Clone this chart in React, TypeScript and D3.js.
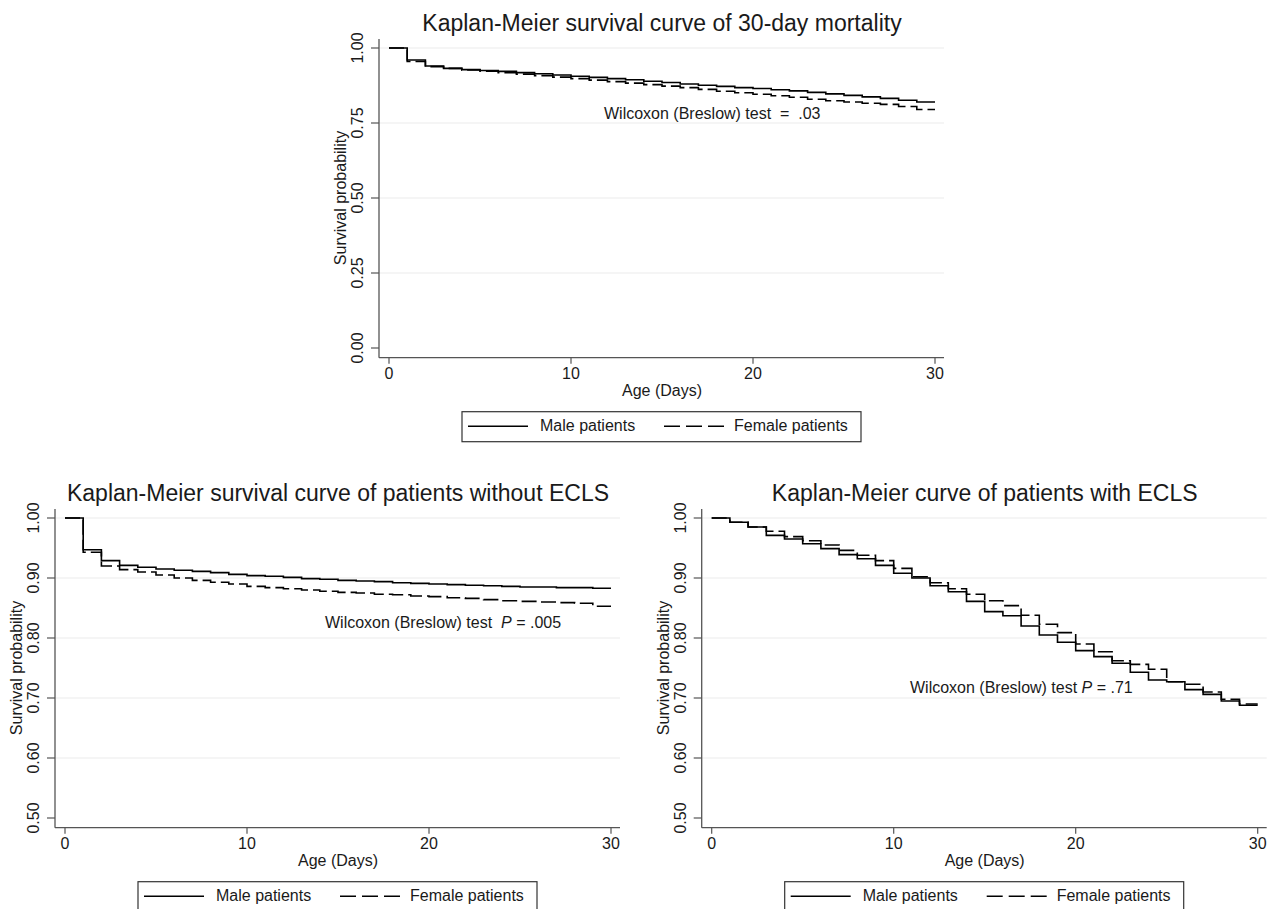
import React from 'react';
import * as d3 from 'd3';

const days = [0, 1, 2, 3, 4, 5, 6, 7, 8, 9, 10, 11, 12, 13, 14, 15, 16, 17, 18, 19, 20, 21, 22, 23, 24, 25, 26, 27, 28, 29, 30];

const allMale = [1.0, 0.96, 0.94, 0.932, 0.928, 0.925, 0.922, 0.918, 0.914, 0.91, 0.906, 0.902, 0.898, 0.894, 0.889, 0.885, 0.88, 0.876, 0.872, 0.868, 0.865, 0.861, 0.857, 0.852, 0.847, 0.842, 0.837, 0.832, 0.826, 0.82, 0.82];
const allFemale = [1.0, 0.955, 0.938, 0.932, 0.927, 0.923, 0.918, 0.913, 0.908, 0.903, 0.898, 0.893, 0.888, 0.883, 0.878, 0.873, 0.868, 0.862, 0.856, 0.851, 0.846, 0.841, 0.836, 0.829, 0.824, 0.82, 0.816, 0.812, 0.805, 0.795, 0.795];

const noEclsMale = [1.0, 0.947, 0.929, 0.921, 0.918, 0.915, 0.913, 0.911, 0.909, 0.906, 0.904, 0.903, 0.901, 0.899, 0.898, 0.896, 0.895, 0.894, 0.892, 0.891, 0.89, 0.889, 0.888, 0.887, 0.886, 0.885, 0.885, 0.884, 0.884, 0.883, 0.883];
const noEclsFemale = [1.0, 0.943, 0.92, 0.914, 0.91, 0.905, 0.9, 0.896, 0.893, 0.89, 0.886, 0.884, 0.882, 0.88, 0.878, 0.876, 0.875, 0.873, 0.872, 0.87, 0.869, 0.867, 0.866, 0.864, 0.862, 0.861, 0.86, 0.859, 0.858, 0.853, 0.853];

const eclsMale = [1.0, 0.993, 0.985, 0.971, 0.965, 0.957, 0.949, 0.939, 0.932, 0.921, 0.908, 0.9, 0.887, 0.877, 0.861, 0.844, 0.837, 0.82, 0.805, 0.793, 0.779, 0.769, 0.758, 0.743, 0.73, 0.727, 0.714, 0.706, 0.695, 0.688, 0.688];
const eclsFemale = [1.0, 0.993, 0.985, 0.978, 0.969, 0.962, 0.955, 0.946, 0.938, 0.929, 0.916, 0.902, 0.892, 0.882, 0.873, 0.862, 0.854, 0.838, 0.823, 0.809, 0.79, 0.777, 0.762, 0.756, 0.748, 0.727, 0.723, 0.71, 0.698, 0.69, 0.69];

const xTicks = [0, 10, 20, 30];
const yTicksTop = [0, 0.25, 0.5, 0.75, 1.0];
const yTicksBottom = [0.5, 0.6, 0.7, 0.8, 0.9, 1.0];

const titles = [
  'Kaplan-Meier survival curve of 30-day mortality',
  'Kaplan-Meier survival curve of patients without ECLS',
  'Kaplan-Meier curve of patients with ECLS',
];
const legendLabels = ['Male patients', 'Female patients'];

const FONT = '"Liberation Sans", Arial, Helvetica, sans-serif';
const AXIS = '#555';
const GRID = '#ececec';
const TEXT = '#1a1a1a';

type PanelProps = {
  ox: number;
  oy: number;
  title: string;
  yDomain: [number, number];
  yTicks: number[];
  male: number[];
  female: number[];
  annotation: React.ReactNode;
  annX: number;
  annY: number;
};

function Panel({ ox, oy, title, yDomain, yTicks, male, female, annotation, annX, annY }: PanelProps) {
  const x = d3.scaleLinear().domain([0, 30]).range([ox + 10, ox + 556]);
  const y = d3.scaleLinear().domain(yDomain).range([oy - 9.7, oy - 309.7]);
  const line = d3
    .line<number>()
    .x((_, i) => x(days[i]))
    .y((d) => y(d))
    .curve(d3.curveStepAfter);
  const right = ox + 565;
  const yMid = (y(yDomain[0]) + y(yDomain[1])) / 2;
  const fmt = (v: number) => v.toFixed(2);
  return (
    <g fontFamily={FONT} fill={TEXT}>
      <text x={ox + 283} y={oy - 327} fontSize={23} textAnchor="middle">
        {title}
      </text>
      {yTicks.slice(1).map((t) => (
        <line key={'g' + t} x1={ox} x2={right} y1={y(t)} y2={y(t)} stroke={GRID} strokeWidth={1.2} />
      ))}
      <line x1={ox} x2={ox} y1={oy - 318.7} y2={oy} stroke={AXIS} strokeWidth={1.3} />
      <line x1={ox} x2={right} y1={oy} y2={oy} stroke={AXIS} strokeWidth={1.3} />
      {yTicks.map((t) => (
        <g key={'y' + t}>
          <line x1={ox - 8} x2={ox} y1={y(t)} y2={y(t)} stroke={AXIS} strokeWidth={1.2} />
          <text
            transform={`translate(${ox - 15.7},${y(t)}) rotate(-90)`}
            fontSize={16}
            textAnchor="middle"
          >
            {fmt(t)}
          </text>
        </g>
      ))}
      {xTicks.map((t) => (
        <g key={'x' + t}>
          <line x1={x(t)} x2={x(t)} y1={oy} y2={oy + 6} stroke={AXIS} strokeWidth={1.2} />
          <text x={x(t)} y={oy + 21.6} fontSize={16} textAnchor="middle">
            {t}
          </text>
        </g>
      ))}
      <text x={ox + 283} y={oy + 38.5} fontSize={16} textAnchor="middle">
        Age (Days)
      </text>
      <text transform={`translate(${ox - 33},${yMid}) rotate(-90)`} fontSize={16} textAnchor="middle">
        Survival probability
      </text>
      <path d={line(male) || ''} fill="none" stroke="#000" strokeWidth={1.6} />
      <path d={line(female) || ''} fill="none" stroke="#000" strokeWidth={1.6} strokeDasharray="15 5" />
      <text x={annX} y={annY} fontSize={16} style={{ whiteSpace: 'pre' }}>
        {annotation}
      </text>
      <rect x={ox + 83} y={oy + 54} width={399} height={30} fill="#fff" stroke="#333" strokeWidth={1.2} />
      <line x1={ox + 89} x2={ox + 149} y1={oy + 68.6} y2={oy + 68.6} stroke="#000" strokeWidth={1.5} />
      <text x={ox + 161} y={oy + 73.5} fontSize={16}>
        {legendLabels[0]}
      </text>
      <line
        x1={ox + 285}
        x2={ox + 345}
        y1={oy + 68.6}
        y2={oy + 68.6}
        stroke="#000"
        strokeWidth={1.5}
        strokeDasharray="16 6"
      />
      <text x={ox + 355} y={oy + 73.5} fontSize={16}>
        {legendLabels[1]}
      </text>
    </g>
  );
}

export default function App() {
  return (
    <svg
      width={1274}
      height={909}
      viewBox="0 0 1274 909"
      style={{ position: 'absolute', left: 0, top: 0, background: '#fff' }}
    >
      <rect x={0} y={0} width={1274} height={909} fill="#fff" />
      <Panel
        ox={379}
        oy={357.7}
        title={titles[0]}
        yDomain={[0, 1]}
        yTicks={yTicksTop}
        male={allMale}
        female={allFemale}
        annotation={'Wilcoxon (Breslow) test  =  .03'}
        annX={604}
        annY={118.5}
      />
      <Panel
        ox={55}
        oy={827.7}
        title={titles[1]}
        yDomain={[0.5, 1]}
        yTicks={yTicksBottom}
        male={noEclsMale}
        female={noEclsFemale}
        annotation={
          <>
            {'Wilcoxon (Breslow) test  '}
            <tspan fontStyle="italic">P</tspan>
            {' = .005'}
          </>
        }
        annX={325}
        annY={628}
      />
      <Panel
        ox={701.7}
        oy={827.7}
        title={titles[2]}
        yDomain={[0.5, 1]}
        yTicks={yTicksBottom}
        male={eclsMale}
        female={eclsFemale}
        annotation={
          <>
            {'Wilcoxon (Breslow) test '}
            <tspan fontStyle="italic">P</tspan>
            {' = .71'}
          </>
        }
        annX={910}
        annY={692.7}
      />
    </svg>
  );
}
